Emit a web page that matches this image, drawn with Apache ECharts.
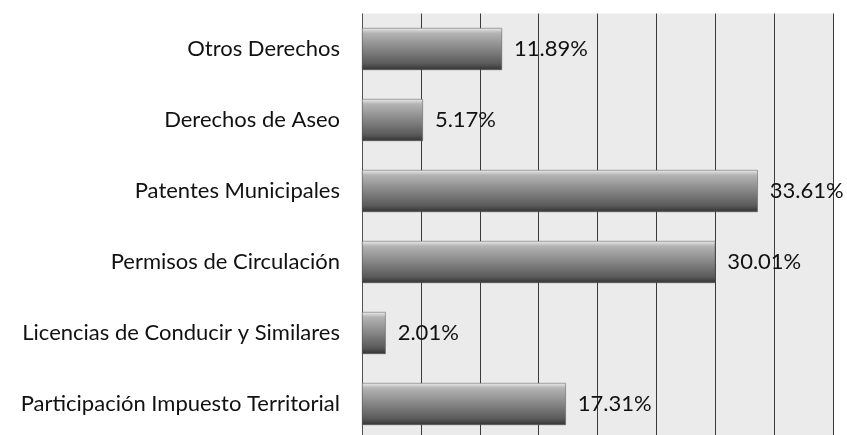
<!DOCTYPE html>
<html><head><meta charset="utf-8">
<script src="https://cdn.jsdelivr.net/npm/echarts@6/dist/echarts.min.js"></script>
<style>html,body{margin:0;padding:0;background:#fff}#c{width:847px;height:435px}</style>
</head><body><div id="c"></div>
<script>
const categories = [
  "Participación Impuesto Territorial",
  "Licencias de Conducir y Similares",
  "Permisos de Circulación",
  "Patentes Municipales",
  "Derechos de Aseo",
  "Otros Derechos"
];
const values = [17.31, 2.01, 30.01, 33.61, 5.17, 11.89];
const axisMin = 0, axisMax = 40, axisInterval = 5;

const chart = echarts.init(document.getElementById('c'), null, {renderer: 'canvas'});
chart.setOption({
  animation: false,
  grid: {left: 362, width: 471, top: 13.5, height: 426, outerBoundsMode: 'none', containLabel: false, show: true, backgroundColor: '#ebebeb', borderWidth: 0},
  xAxis: {
    type: 'value', min: axisMin, max: axisMax, interval: axisInterval,
    axisLabel: {show: false}, axisTick: {show: false}, axisLine: {show: false},
    splitLine: {show: true, lineStyle: {color: '#3a3a3a', width: 1}}
  },
  yAxis: {
    type: 'category', data: categories,
    axisTick: {show: false},
    axisLine: {show: true, lineStyle: {color: '#555', width: 1, type: 'dotted'}},
    axisLabel: {color: '#111', fontFamily: 'Lato', fontSize: 22, margin: 22}
  },
  series: [{
    type: 'bar', data: values, barWidth: 42,
    itemStyle: {
      color: new echarts.graphic.LinearGradient(0, 0, 0, 1, [
        {offset: 0, color: '#ececec'},
        {offset: 0.12, color: '#b4b4b4'},
        {offset: 0.5, color: '#858585'},
        {offset: 0.85, color: '#5a5a5a'},
        {offset: 1, color: '#333333'}
      ]),
      borderColor: '#555', borderWidth: 0.5
    },
    label: {
      show: true, position: 'right', distance: 12,
      formatter: p => p.value.toFixed(2) + '%',
      color: '#111', fontFamily: 'Lato', fontSize: 22
    }
  }]
});
</script></body></html>
